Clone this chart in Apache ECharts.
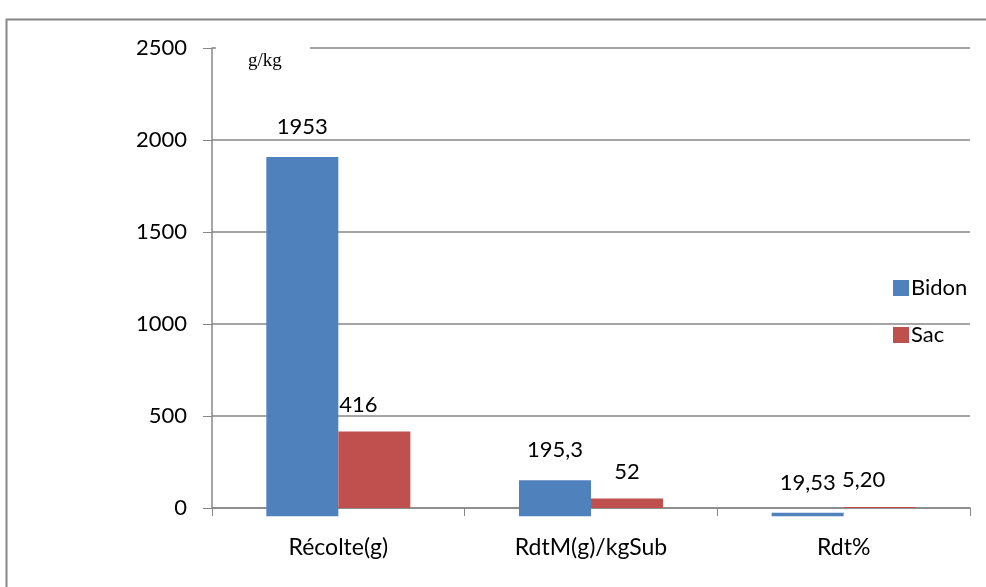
<!DOCTYPE html>
<html>
<head>
<meta charset="utf-8">
<script src="https://cdn.jsdelivr.net/npm/echarts@6/dist/echarts.min.js"></script>
<style>
html,body{margin:0;padding:0;background:#fff;}
#main{width:986px;height:587px;}
</style>
</head>
<body>
<div id="main"></div>
<script>
// donnees
var categories = ['Récolte(g)', 'RdtM(g)/kgSub', 'Rdt%'];
var bidon = [1953, 195.3, 19.53];
var sac = [416, 52, 5.20];
var bidonLabels = ['1953', '195,3', '19,53'];
var sacLabels = ['416', '52', '5,20'];
var bidonShift = [-45, -45, -45];   // les barres Bidon descendent sous l'axe sur l'image
var yTicks = [0, 500, 1000, 1500, 2000, 2500];

var fontName = 'Lato';
var grey = '#878787';

function e_chart(){
	var myChart = echarts.init(document.getElementById('main'));

	var bidonData = bidon.map(function(v, i){
		return {value: v, label: {formatter: bidonLabels[i]}};
	});
	var sacOffsets = [[-16, 0], [0, 0], [-16, 0]];
	var sacData = sac.map(function(v, i){
		return {value: v, label: {formatter: sacLabels[i], offset: sacOffsets[i]}};
	});

	var option = {
		animation: false,
		textStyle: {fontFamily: fontName},
		grid: {left: 212, right: 16, top: 48, bottom: 79},
		legend: {
			data: ['Bidon', 'Sac'],
			orient: 'vertical',
			left: 888,
			top: 272,
			itemWidth: 16,
			itemHeight: 16,
			itemGap: 25,
			icon: 'rect',
			textStyle: {fontSize: 22, color: '#000', fontFamily: fontName, padding: [0, 0, 0, -3]}
		},
		xAxis: {
			type: 'category',
			data: categories,
			axisLine: {lineStyle: {color: grey, width: 1.5}},
			axisTick: {show: true, length: 8, lineStyle: {color: grey}},
			axisLabel: {fontSize: 23, color: '#000', margin: 28, fontFamily: fontName}
		},
		yAxis: {
			type: 'value',
			min: 0,
			max: 2500,
			interval: 500,
			axisLine: {show: true, lineStyle: {color: grey, width: 1.5}},
			axisTick: {show: true, length: 9, lineStyle: {color: grey}},
			axisLabel: {
				fontSize: 22, color: '#000', margin: 25, fontFamily: fontName,
				formatter: function(v){ return yTicks.indexOf(v) >= 0 ? String(v) : ''; }
			},
			splitLine: {show: true, lineStyle: {color: grey, width: 1.5}}
		},
		series: [
			{
				name: 'decalage',
				type: 'bar',
				stack: 'bidon',
				stackStrategy: 'all',
				data: bidonShift,
				itemStyle: {color: 'rgba(0,0,0,0)'},
				barWidth: 72,
				barGap: '0%',
				clip: false,
				silent: true,
				z: 1
			},
			{
				name: 'Bidon',
				type: 'bar',
				stack: 'bidon',
				stackStrategy: 'all',
				data: bidonData,
				itemStyle: {color: '#4F81BD'},
				barWidth: 72,
				barGap: '0%',
				clip: false,
				label: {show: true, position: 'top', distance: 19, fontSize: 22, color: '#000', fontFamily: fontName}
			},
			{
				name: 'Sac',
				type: 'bar',
				data: sacData,
				itemStyle: {color: '#C0504D'},
				barWidth: 72,
				barGap: '0%',
				clip: false,
				label: {show: true, position: 'top', distance: 16, fontSize: 22, color: '#000', fontFamily: fontName}
			}
		],
		graphic: [
			{
				type: 'rect',
				shape: {x: 6.5, y: 19.5, width: 1100, height: 700},
				style: {fill: 'none', stroke: grey, lineWidth: 2},
				silent: true
			},
			{
				type: 'rect',
				shape: {x: 216, y: 38, width: 94, height: 40},
				style: {fill: '#fff'},
				z: 10
			},
			{
				type: 'text',
				left: 248,
				top: 52,
				style: {text: 'g/kg', font: '19px "Liberation Serif", "DejaVu Serif", serif', fill: '#000'},
				z: 11
			}
		]
	};

	myChart.setOption(option);
}

e_chart();
</script>
</body>
</html>
